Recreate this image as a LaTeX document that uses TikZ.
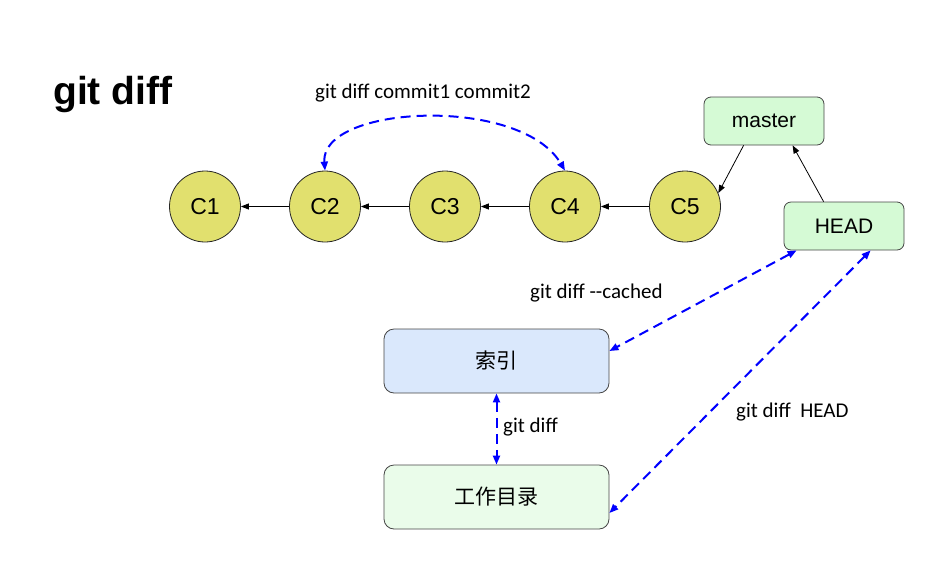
\documentclass[tikz,border=0pt]{standalone}
\usepackage{fontspec}
\setmainfont{Liberation Sans}
\newfontfamily\lblfont{Carlito}
\newfontfamily\cjk{Noto Sans CJK SC}
\usetikzlibrary{arrows.meta}
\definecolor{commitfill}{RGB}{225,224,110}
\definecolor{reffill}{RGB}{213,250,213}
\definecolor{idxfill}{RGB}{218,232,252}
\definecolor{wdfill}{RGB}{234,252,234}
\definecolor{boxdraw}{RGB}{70,70,70}
\definecolor{diffblue}{RGB}{0,0,255}
\tikzset{
  commit/.style={circle, draw=black!85, line width=0.8pt, fill=commitfill, minimum size=71pt, inner sep=0pt, font=\fontsize{23}{27}\selectfont},
  refbox/.style={rounded corners=7pt, draw=boxdraw, line width=0.8pt, fill=reffill, minimum width=120pt, minimum height=48pt, inner sep=0pt, font=\fontsize{21}{25}\selectfont},
  areabox/.style={rounded corners=10pt, draw=boxdraw, line width=0.8pt, minimum width=225pt, minimum height=64pt, inner sep=0pt, font=\cjk\fontsize{21}{25}\selectfont},
  parent/.style={draw=black, line width=0.8pt, -{Triangle[length=8pt,width=6pt]}},
  diffarrow/.style={draw=diffblue, line width=2pt, dash pattern=on 10pt off 6pt, {Triangle[length=9pt,width=7pt]}-{Triangle[length=9pt,width=7pt]}},
  lbl/.style={font=\lblfont\fontsize{21}{25}\selectfont, inner sep=0pt}
}
\begin{document}
\begin{tikzpicture}[x=1pt, y=-1pt]
\useasboundingbox (0,0) rectangle (932,563);
\node[anchor=base west, inner sep=0pt, font=\bfseries\fontsize{39}{44}\selectfont] (title) at (53,104) {git diff};

\node[commit] (c1) at (205,206.5) {C1};
\node[commit] (c2) at (325,206.5) {C2};
\node[commit] (c3) at (445,206.5) {C3};
\node[commit] (c4) at (565,206.5) {C4};
\node[commit] (c5) at (685,206.5) {C5};

\node[refbox] (master) at (764,121) {master};
\node[refbox] (head) at (844,226) {HEAD};

\node[areabox, fill=idxfill] (index) at (496.5,361) {索引};
\node[areabox, fill=wdfill] (wd) at (496.5,497) {工作目录};

\draw[parent] (c2) -- (c1);
\draw[parent] (c3) -- (c2);
\draw[parent] (c4) -- (c3);
\draw[parent] (c5) -- (c4);
\draw[parent] ([xshift=40pt]master.south west) -- (c5.22);
\draw[parent] ([xshift=40pt]head.north west) -- ([xshift=89pt]master.south west);

\draw[diffarrow] (c2.north) .. controls (320,105) and (520,95) .. (c4.north);
\node[lbl] (l1) at (423,93) {git diff commit1 commit2};

\draw[diffarrow] ([xshift=13pt]head.south west) -- ([yshift=10pt]index.east);
\node[lbl, anchor=west] (l2) at (530,293) {git diff -\/-cached};

\draw[diffarrow] ([xshift=87pt]head.south west) -- ([yshift=-16pt]wd.east);
\node[lbl, anchor=west] (l3) at (736,412) {git diff\ \ HEAD};

\draw[diffarrow] (index.south) -- (wd.north);
\node[lbl, anchor=west] (l4) at (503,427) {git diff};
\end{tikzpicture}
\end{document}
